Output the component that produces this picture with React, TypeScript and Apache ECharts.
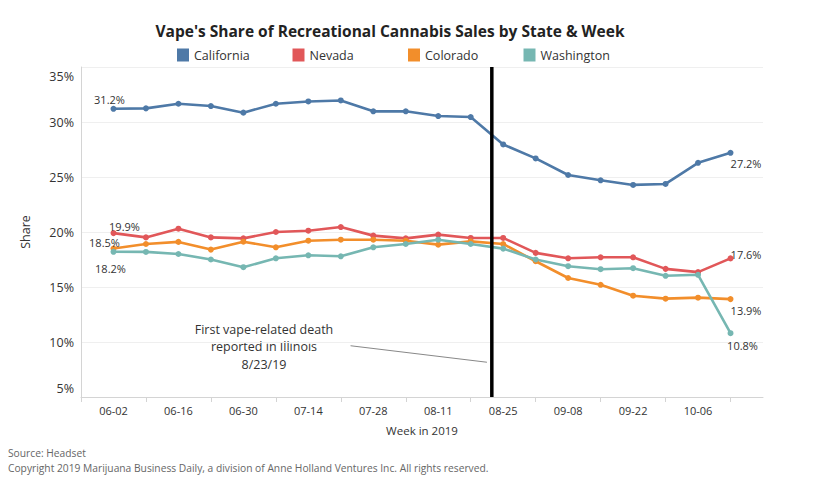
import React, { useEffect, useRef } from "react";
import * as echarts from "echarts";

// ---- data ----
const weeks = [
  "06-02", "06-09", "06-16", "06-23", "06-30", "07-07", "07-14", "07-21", "07-28", "08-04",
  "08-11", "08-18", "08-25", "09-01", "09-08", "09-15", "09-22", "09-29", "10-06", "10-13",
];
const padBefore = "05-26";
const padAfter = "10-20";

const california = [31.2, 31.24, 31.66, 31.45, 30.85, 31.66, 31.87, 31.96, 30.97, 30.97, 30.54, 30.45, 27.96, 26.69, 25.18, 24.7, 24.28, 24.37, 26.29, 27.2];
const nevada = [19.9, 19.51, 20.3, 19.51, 19.42, 20.0, 20.12, 20.45, 19.67, 19.42, 19.76, 19.46, 19.46, 18.1, 17.61, 17.7, 17.7, 16.65, 16.35, 17.6];
const colorado = [18.5, 18.91, 19.1, 18.4, 19.12, 18.61, 19.21, 19.3, 19.3, 19.21, 18.85, 19.15, 18.91, 17.34, 15.82, 15.2, 14.21, 13.94, 14.03, 13.9];
const washington = [18.2, 18.19, 18.0, 17.5, 16.8, 17.61, 17.88, 17.79, 18.61, 18.91, 19.3, 18.91, 18.49, 17.5, 16.89, 16.62, 16.71, 16.02, 16.11, 10.8];

const seriesNames = ["California", "Nevada", "Colorado", "Washington"];
const seriesValues = [california, nevada, colorado, washington];

const yMin = 5;
const yMax = 35;
const yStep = 5;

// event: first vape-related death reported 8/23/19 (week index position)
const eventWeekPos = 11.65;
const annotationLines = ["First vape-related death", "reported in Illinois", "8/23/19"];
const connectorFrom = [7.3, 9.66];
const connectorTo = [11.5, 8.16];

const titleText = "Vape's Share of Recreational Cannabis Sales by State & Week";
const sourceText = "Source: Headset";
const copyrightText = "Copyright 2019 Marijuana Business Daily, a division of Anne Holland Ventures Inc. All rights reserved.";

// ---- styles ----
const FONT = '"Open Sans", sans-serif';
const colors = ["#4e79a7", "#e15759", "#f28e2b", "#76b7b2"];
const legendLefts = [177, 292.5, 408, 523.5];
const firstOffsets = [[-4, -9], [11, -7], [-9, -6], [-3, 17]];
const lastOffsets = [[15.5, 11], [15.5, -4], [15.5, 11], [12, 12]];

export default function App() {
  const ref = useRef<HTMLDivElement>(null);

  useEffect(() => {
    if (!ref.current) return;
    const chart = echarts.init(ref.current, undefined, { renderer: "svg" });

    const axisCats = [padBefore, ...weeks, padAfter];

    const lineSeries = seriesNames.map((name, s) => {
      const vals = seriesValues[s];
      const color = colors[s];
      return {
        name,
        type: "line",
        xAxisIndex: 0,
        yAxisIndex: 0,
        symbol: "circle",
        symbolSize: 6,
        lineStyle: { width: 2.6, color },
        itemStyle: { color },
        z: 3,
        data: vals.map((v, i) => {
          const item: any = { value: [weeks[i], v] };
          if (i === 0 || i === vals.length - 1) {
            item.label = {
              show: true,
              position: "inside",
              offset: i === 0 ? firstOffsets[s] : lastOffsets[s],
              formatter: v.toFixed(1) + "%",
              color: "#333",
              fontSize: 11,
              fontFamily: FONT,
            };
          }
          return item;
        }),
      };
    });

    const legends = seriesNames.map((name, s) => ({
      data: [name],
      left: legendLefts[s],
      top: 48.5,
      padding: 0,
      icon: "rect",
      itemWidth: 12,
      itemHeight: 13,
      textStyle: { fontFamily: FONT, fontSize: 12.5, color: "#333" },
    }));

    const option: any = {
      animation: false,
      backgroundColor: "#fff",
      title: {
        text: titleText,
        left: 390,
        top: 23,
        textAlign: "center",
        padding: 0,
        textStyle: { fontFamily: FONT, fontWeight: "bold", fontSize: 15.5, color: "#222" },
      },
      legend: legends,
      grid: { left: 81, right: 52, top: 67, bottom: 84 },
      xAxis: [
        {
          type: "category",
          data: axisCats,
          boundaryGap: false,
          name: "Week in 2019",
          nameLocation: "middle",
          nameGap: 27,
          nameTextStyle: { fontFamily: FONT, fontSize: 11.5, color: "#333" },
          axisLine: { lineStyle: { color: "#d4d4d4" } },
          axisTick: {
            show: true,
            length: 5,
            interval: (index: number) => index % 2 === 0 && index <= weeks.length,
            lineStyle: { color: "#d4d4d4" },
          },
          axisLabel: {
            interval: (index: number) => index % 2 === 1 && index <= weeks.length - 1,
            fontFamily: FONT,
            fontSize: 11,
            color: "#333",
            margin: 8,
          },
          splitLine: { show: false },
        },
        {
          type: "value",
          min: -1,
          max: weeks.length,
          show: false,
        },
      ],
      yAxis: {
        type: "value",
        min: yMin,
        max: yMax,
        interval: yStep,
        name: "Share",
        nameLocation: "middle",
        nameGap: 49,
        nameTextStyle: { fontFamily: FONT, fontSize: 12.5, color: "#333" },
        axisLine: { show: true, onZero: false, lineStyle: { color: "#d4d4d4" } },
        axisTick: { show: false },
        axisLabel: {
          fontFamily: FONT,
          fontSize: 12.5,
          color: "#333",
          margin: 7,
          formatter: (v: number) =>
            v === yMax ? `{t|${v}%}` : v === yMin ? `{b|${v}%}` : `${v}%`,
          rich: {
            t: { padding: [18, 0, 0, 0], fontFamily: FONT, fontSize: 12.5, color: "#333" },
            b: { padding: [0, 0, 18, 0], fontFamily: FONT, fontSize: 12.5, color: "#333" },
          },
        },
        splitLine: { show: true, lineStyle: { color: "#efefef", width: 1 } },
      },
      series: [
        ...lineSeries,
        {
          name: "event",
          type: "line",
          xAxisIndex: 1,
          yAxisIndex: 0,
          data: [
            [eventWeekPos, yMin],
            [eventWeekPos, yMax],
          ],
          symbol: "none",
          silent: true,
          lineStyle: { color: "#000", width: 3.5 },
          z: 5,
        },
        {
          name: "connector",
          type: "line",
          xAxisIndex: 1,
          yAxisIndex: 0,
          data: [connectorFrom, connectorTo],
          symbol: "none",
          silent: true,
          lineStyle: { color: "#888", width: 1 },
          z: 2,
        },
      ],
      graphic: [
        {
          type: "text",
          x: 264,
          y: 346.7,
          style: {
            text: annotationLines.join("\n"),
            align: "center",
            verticalAlign: "middle",
            lineHeight: 17.5,
            fontFamily: FONT,
            fontSize: 12.5,
            fill: "#333",
          },
        },
        {
          type: "text",
          x: 8,
          y: 453,
          style: { text: sourceText, verticalAlign: "middle", fontFamily: FONT, fontSize: 10.25, fill: "#666" },
        },
        {
          type: "text",
          x: 8,
          y: 468,
          style: { text: copyrightText, verticalAlign: "middle", fontFamily: FONT, fontSize: 10.25, fill: "#666" },
        },
      ],
    };

    chart.setOption(option);
    return () => chart.dispose();
  }, []);

  return (
    <div
      ref={ref}
      style={{ position: "absolute", left: 0, top: 0, width: 815, height: 481 }}
    />
  );
}
